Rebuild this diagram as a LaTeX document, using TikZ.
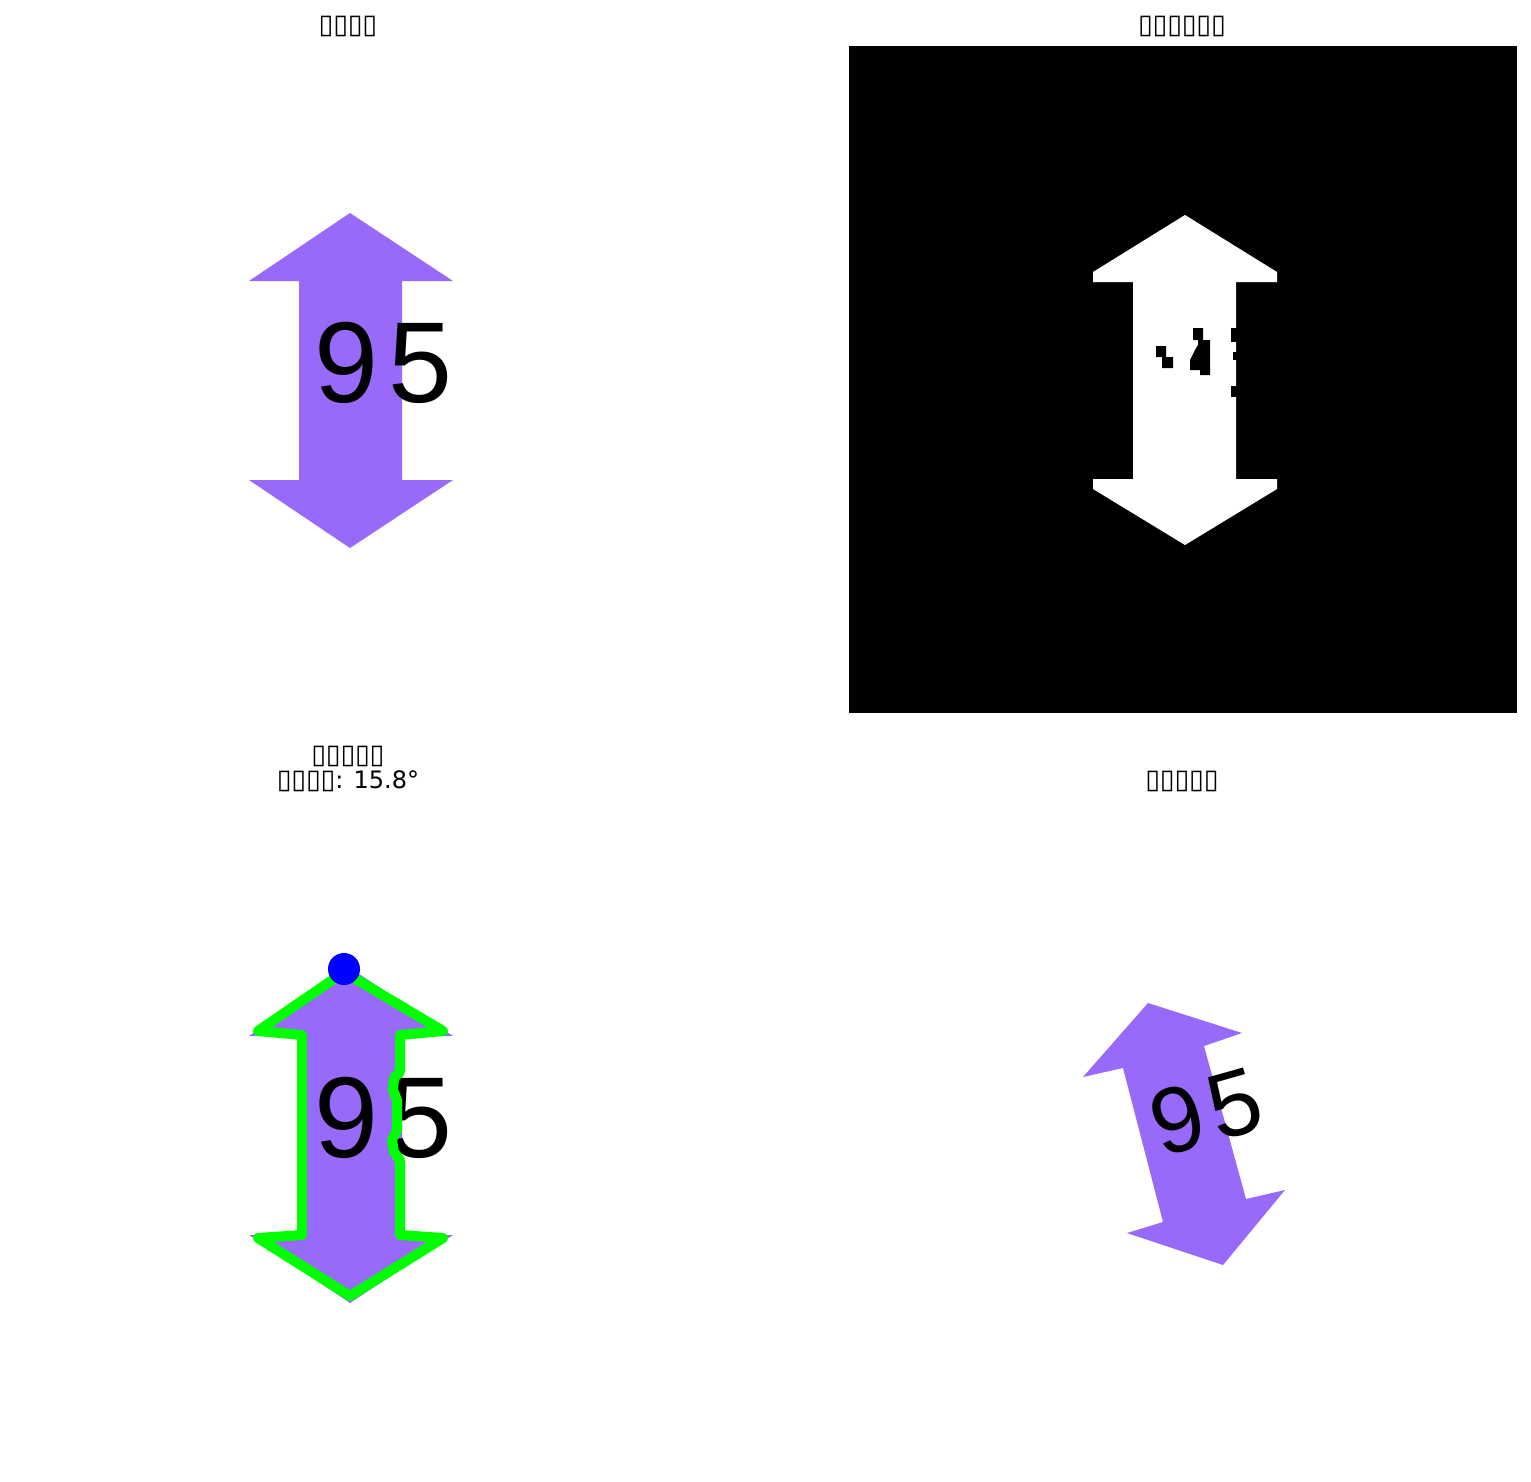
\documentclass[tikz,border=0pt]{standalone}
\usepackage{fontspec}
\setmainfont{DejaVu Sans}
\newfontfamily\digitfont{Liberation Sans}
\newcommand\tofu{\makebox[14.6pt]{\fontsize{27}{27}\selectfont ▯}}
\definecolor{arrowpurple}{RGB}{152,106,250}
\definecolor{cvgreen}{RGB}{0,255,0}
\definecolor{cvblue}{RGB}{0,0,255}
\begin{document}
\begin{tikzpicture}[x=1pt,y=-1pt,
  title/.style={anchor=base, inner sep=0pt, font=\fontsize{24}{26}\selectfont},
  numtext/.style={inner sep=0pt, text=black, font=\digitfont\fontsize{115}{115}\selectfont},
  contour/.style={draw=cvgreen, line width=10pt, line join=round, line cap=round}]
\def\dblarrow{(0,-167.5) -- (103,-99.5) -- (52,-99.5) -- (52,99.5) -- (103,99.5) -- (0,167.5) -- (-101,99.5) -- (-51,99.5) -- (-51,-99.5) -- (-101,-99.5) -- cycle}
\useasboundingbox (0,0) rectangle (1531,1482);
\fill[white] (0,0) rectangle (1531,1482);

% titles
\node[title] (t1) at (348,34) {\tofu\tofu\tofu\tofu};
\node[title] (t2) at (1182,34) {\tofu\tofu\tofu\tofu\tofu\tofu};
\node[title] (t3a) at (348,763) {\tofu\tofu\tofu\tofu\tofu};
\node[title] (t3b) at (348,788) {\tofu\tofu\tofu\tofu: 15.8°};
\node[title] (t4) at (1182,788) {\tofu\tofu\tofu\tofu\tofu};

% panel 1: original
\fill[arrowpurple, shift={(350,380.5)}] \dblarrow;
\node[numtext] (n1) at (383.5,363) {9\kern11pt 5};

% panel 2: mask
\fill[black] (849,46) rectangle (1517,713);
\fill[white, shift={(1185,380)}] (0,-165) -- (92,-108) -- (92,-98) -- (51,-98) -- (51,99) -- (92,99) -- (92,109) -- (0,165) -- (-92,109) -- (-92,99) -- (-52,99) -- (-52,-98) -- (-92,-98) -- (-92,-108) -- cycle;
\fill[black] (1156,346) -- (1166,346) -- (1166,357) -- (1173,357) -- (1173,368) -- (1162,368) -- (1162,357) -- (1156,357) -- cycle;
\fill[black] (1193,328) -- (1203,328) -- (1203,340) -- (1210,340) -- (1210,375) -- (1200,375) -- (1200,370) -- (1190,370) -- (1190,360) -- (1195,350) -- (1198,345) -- (1198,340) -- (1193,340) -- cycle;
\fill[black] (1231,328) rectangle (1237,342);
\fill[black] (1233,352) rectangle (1237,360);
\fill[black] (1231,386) rectangle (1237,397);

% panel 3: contour and vertex
\fill[arrowpurple, shift={(350,1135.5)}] \dblarrow;
\node[numtext] (n3) at (383.5,1118) {9\kern11pt 5};
\draw[contour] (344,972) -- (443,1031) -- (400,1035) -- (400,1072) -- (394,1078) -- (393,1090) -- (397,1100) -- (397,1130) -- (392,1140) -- (394,1152) -- (400,1160) -- (400,1235) -- (443,1238) -- (350,1296) -- (258,1238) -- (302,1235) -- (302,1035) -- (258,1031) -- cycle;
\fill[cvblue] (344,969) circle[radius=16];

% panel 4: corrected
\fill[arrowpurple] (1148,1003) -- (1242,1033) -- (1204,1046) -- (1246,1199) -- (1285,1190) -- (1223,1265) -- (1127,1233) -- (1163,1222) -- (1123,1068) -- (1083,1077) -- cycle;
\node[numtext, rotate=15.8, font=\digitfont\fontsize{93}{93}\selectfont] (n4) at (1206,1112) {9\kern8pt 5};
\end{tikzpicture}
\end{document}
